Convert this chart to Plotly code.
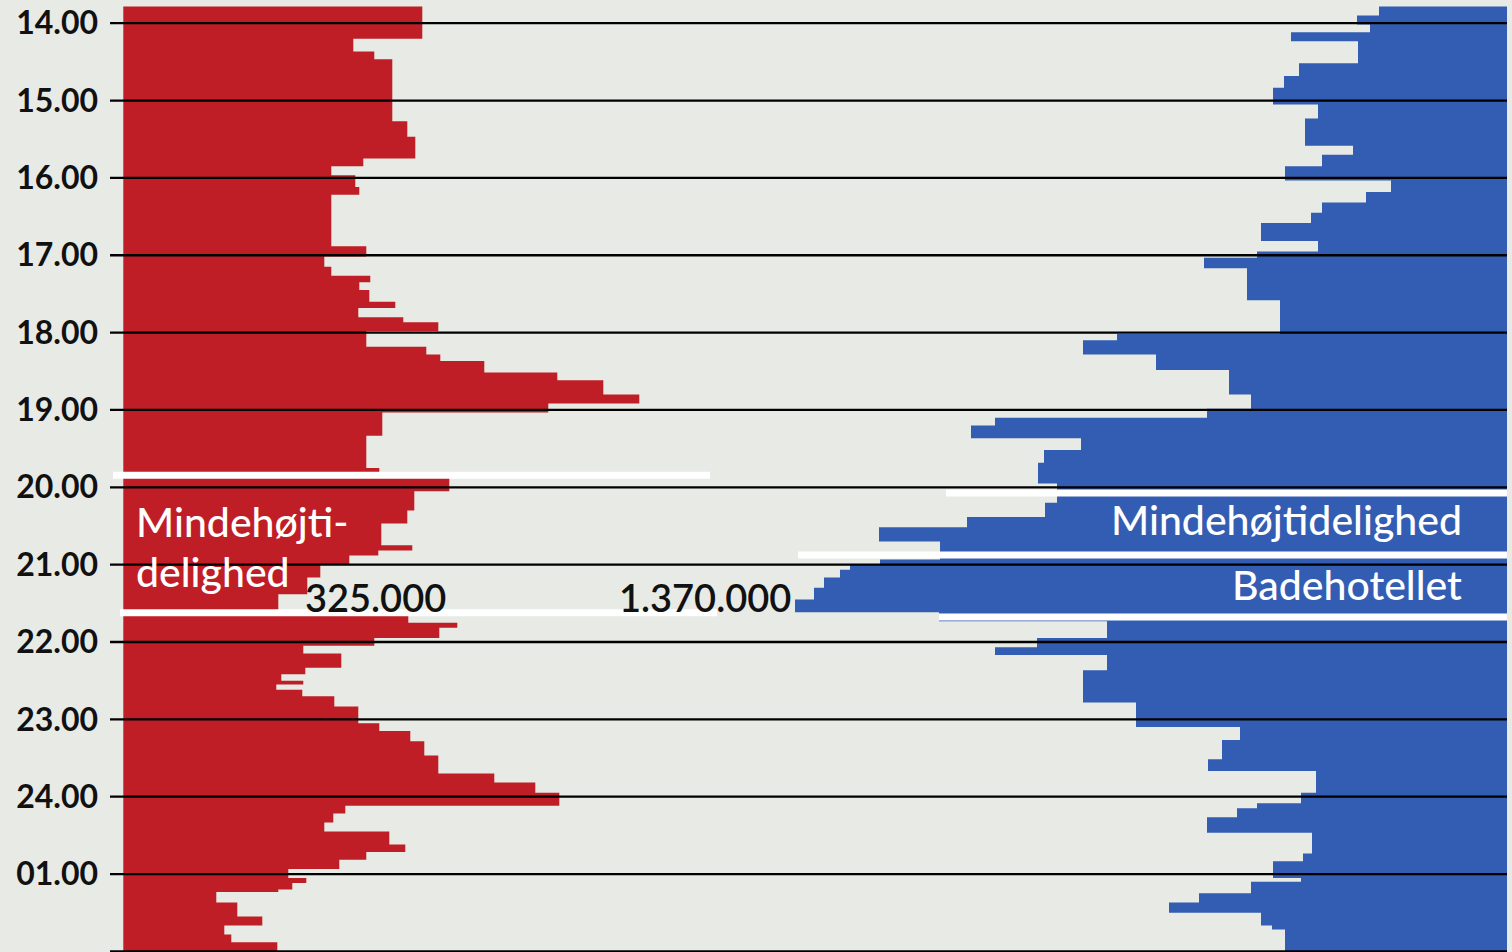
import plotly.graph_objects as go

# ---------------- data ----------------
# minutes after 14:00 at which each step starts, and the value held (relative units)
red_min = [-13, 12, 22, 28, 76, 88, 105, 111, 118, 127, 133, 173, 181, 189, 196, 201, 207, 216, 221, 228,
           232, 239, 251, 257, 262, 271, 277, 288, 295, 302, 320, 345, 351, 363, 378, 388, 405, 409, 413, 420,
           430, 443, 456, 465, 469, 477, 483, 489, 500, 505, 510, 513, 517, 522, 530, 543, 549, 557, 568, 582,
           589, 597, 607, 613, 620, 627, 637, 643, 649, 656, 663, 667, 672, 674, 682, 693, 700, 707, 713, 721]
red_val = [299, 230, 251, 269, 284, 292, 240, 208, 232, 236, 208, 243, 201, 208, 247, 236, 246, 272, 235, 280,
           315, 243, 303, 317, 361, 434, 480, 516, 425, 259, 243, 256, 326, 291, 284, 258, 289, 255, 226, 197,
           184, 155, 285, 334, 316, 251, 180, 218, 182, 158, 180, 153, 179, 211, 235, 256, 287, 301, 315, 371,
           412, 436, 222, 210, 201, 266, 282, 243, 216, 165, 183, 169, 155, 93, 114, 139, 101, 108, 154, 154]

blue_min = [-13, -6, 1, 7, 14, 31, 41, 50, 63, 74, 95, 102, 111, 122, 131, 139, 147, 155, 169, 177,
            182, 190, 215, 241, 246, 257, 269, 288, 299, 306, 312, 322, 331, 341, 357, 372, 383, 391, 402, 416,
            420, 424, 430, 438, 447, 457, 464, 477, 484, 490, 502, 527, 546, 556, 571, 580, 597, 605, 609, 616,
            628, 644, 650, 663, 666, 675, 682, 690, 700, 703, 721]
blue_val = [128, 150, 137, 216, 149, 208, 223, 234, 189, 202, 154, 185, 222, 116, 141, 185, 196, 246, 189, 250,
            303, 260, 227, 390, 424, 351, 278, 256, 300, 512, 536, 426, 463, 469, 450, 462, 540, 628, 567, 627,
            657, 667, 683, 693, 712, 568, 400, 470, 512, 400, 424, 371, 267, 285, 299, 191, 206, 250, 270, 300,
            195, 204, 234, 206, 256, 308, 338, 246, 235, 222, 222]

tick_vals = [14, 15, 16, 17, 18, 19, 20, 21, 22, 23, 24, 25, 26]
tick_text = ["14.00", "15.00", "16.00", "17.00", "18.00", "19.00", "20.00", "21.00", "22.00",
             "23.00", "24.00", "01.00", ""]

# programme boundaries (hours)
red_marks = [19 + 50.7 / 60, 21 + 37.3 / 60]
blue_marks = [20 + 4.4 / 60, 20 + 52.5 / 60, 21 + 40.6 / 60]

red_label = ["Mindehøjti-", "delighed"]
blue_labels = ["Mindehøjtidelighed", "Badehotellet"]
value_labels = ["325.000", "1.370.000"]

# ---------------- figure ----------------
W, H = 1512, 952
L, R = 110, 5
PW = W - L - R

def px(x):
    return (x - L) / PW

def py(y):
    return 1 - y / H

red_t = [14 + m / 60 for m in red_min]
blue_t = [14 + m / 60 for m in blue_min]

RED = "#c01e26"
BLUE = "#335db3"
BG = "#e7eae5"
FONT = "Lato"

fig = go.Figure()
fig.add_trace(go.Scatter(x=red_val, y=red_t, mode="lines", line=dict(width=0, shape="vh"),
                         fill="tozerox", fillcolor=RED, xaxis="x", yaxis="y", hoverinfo="skip"))
fig.add_trace(go.Scatter(x=blue_val, y=blue_t, mode="lines", line=dict(width=0, shape="vh"),
                         fill="tozerox", fillcolor=BLUE, xaxis="x2", yaxis="y", hoverinfo="skip"))

shapes = []
for t in tick_vals:
    shapes.append(dict(type="line", xref="paper", yref="y", x0=0, x1=1, y0=t, y1=t,
                       line=dict(color="#000000", width=2.3), layer="above"))
# white programme lines
red_extent = [(113, 710), (120, 717)]
blue_extent = [(946, 1507), (798, 1507), (939, 1507)]
for t, (a, b) in zip(red_marks, red_extent):
    shapes.append(dict(type="line", xref="paper", yref="y", x0=px(a), x1=px(b), y0=t, y1=t,
                       line=dict(color="#ffffff", width=7), layer="above"))
for t, (a, b) in zip(blue_marks, blue_extent):
    shapes.append(dict(type="line", xref="paper", yref="y", x0=px(a), x1=px(b), y0=t, y1=t,
                       line=dict(color="#ffffff", width=7), layer="above"))

ann = []
def add_text(text, x, y, anchor, color, size=38, weight=500):
    ann.append(dict(text=text, xref="paper", yref="paper", x=px(x), y=py(y), xanchor=anchor,
                    yanchor="middle", showarrow=False,
                    font=dict(family=FONT, size=size, color=color, weight=weight)))

add_text(red_label[0], 134, 521, "left", "#ffffff", 41, 500)
add_text(red_label[1], 134, 571, "left", "#ffffff", 41, 500)
add_text(value_labels[0], 303, 597, "left", "#111111", 38, 600)
add_text(value_labels[1], 793, 597, "right", "#111111", 38, 600)
add_text(blue_labels[0], 1464, 519, "right", "#ffffff", 41, 500)
add_text(blue_labels[1], 1464, 584, "right", "#ffffff", 41, 500)

fig.update_layout(
    width=W, height=H,
    margin=dict(l=L, r=R, t=0, b=0, pad=0),
    paper_bgcolor=BG, plot_bgcolor=BG,
    showlegend=False,
    shapes=shapes, annotations=ann,
    xaxis=dict(range=[-13.3, PW - 13.3], visible=False, fixedrange=True),
    xaxis2=dict(range=[PW, 0], overlaying="x", visible=False, fixedrange=True),
    yaxis=dict(range=[26.008, 13.70], tickvals=tick_vals, ticktext=tick_text, showgrid=False,
               zeroline=False, showline=False, ticks="", ticklabelstandoff=11,
               tickfont=dict(family=FONT, size=32, color="#111111", weight=700), fixedrange=True),
)

fig.write_html("out.html", config={"displayModeBar": False},
               post_script="document.body.style.margin='0';document.body.style.overflow='hidden';"
                           "document.body.style.background='" + BG + "';")
